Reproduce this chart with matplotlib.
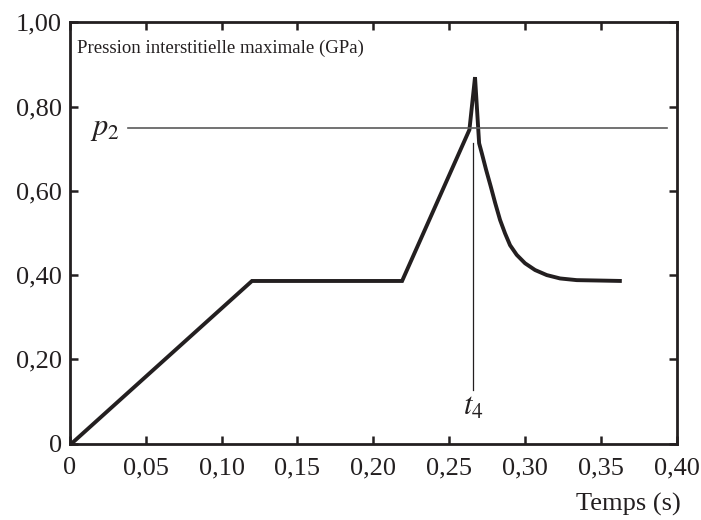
import matplotlib
matplotlib.use("Agg")
import matplotlib.pyplot as plt
from matplotlib.ticker import FixedLocator

# Maximum pore pressure curve
temps = [0.001, 0.120, 0.219, 0.2634, 0.2671, 0.2698, 0.2716, 0.2744,
         0.2775, 0.2804, 0.2836, 0.2869, 0.2902, 0.2946, 0.3001, 0.3067,
         0.3144, 0.3232, 0.3342, 0.3496, 0.3639]
pression = [0.0, 0.386, 0.386, 0.745, 0.870, 0.713, 0.689, 0.650,
            0.610, 0.571, 0.531, 0.499, 0.471, 0.448, 0.428, 0.412,
            0.400, 0.392, 0.388, 0.387, 0.386]

p2 = 0.749
p2_span = [0.038, 0.394]
t4 = 0.266
t4_span = [0.128, 0.713]

x_ticks = [0, 0.05, 0.10, 0.15, 0.20, 0.25, 0.30, 0.35, 0.40]
x_labels = ["0", "0,05", "0,10", "0,15", "0,20", "0,25", "0,30", "0,35", "0,40"]
y_ticks = [0, 0.2, 0.4, 0.6, 0.8, 1.0]
y_labels = ["0", "0,20", "0,40", "0,60", "0,80", "1,00"]

plt.rcParams["font.family"] = ["Liberation Serif", "DejaVu Serif"]
plt.rcParams["mathtext.fontset"] = "stix"

fig = plt.figure(figsize=(7.01, 5.20), dpi=100)
ax = fig.add_axes([0.0999, 0.147, 0.8652, 0.810])

ax.plot(temps, pression, color="#231f20", lw=2.8, solid_joinstyle="miter",
        solid_capstyle="butt")
ax.plot(p2_span, [p2, p2], color="#5a5a5a", lw=1.2)
ax.plot([t4, t4], t4_span, color="#231f20", lw=0.9)

ax.set_xlim(0, 0.40)
ax.set_ylim(0, 1.0)
ax.xaxis.set_major_locator(FixedLocator(x_ticks))
ax.set_xticklabels(x_labels)
ax.yaxis.set_major_locator(FixedLocator(y_ticks))
ax.set_yticklabels(y_labels)
ax.tick_params(direction="in", length=6, width=1.8, labelsize=19,
               top=True, right=True, pad=10, colors="#231f20")
ax.tick_params(axis="y", pad=6)
for s in ax.spines.values():
    s.set_linewidth(2)
    s.set_color("#231f20")

ax.text(0.0045, 0.938, "Pression interstitielle maximale (GPa)", fontsize=13.5,
        va="center", ha="left", color="#231f20")
ax.text(0.033, p2, r"$p_2$", fontsize=22, ha="right", va="center",
        color="#231f20")
ax.text(t4, 0.085, r"$t_4$", fontsize=22, ha="center", va="center",
        color="#231f20")
fig.text(0.971, 0.030, "Temps (s)", fontsize=19, ha="right", va="center",
         color="#231f20")

fig.savefig("out.png", dpi=100)
